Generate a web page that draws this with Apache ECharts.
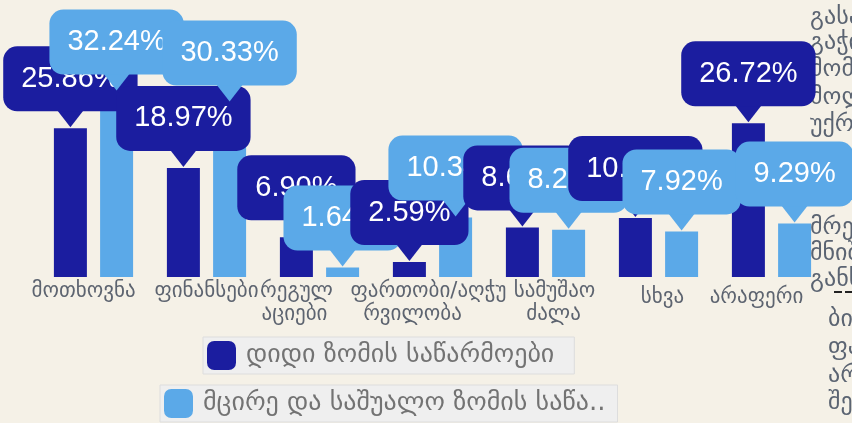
<!DOCTYPE html>
<html><head><meta charset="utf-8">
<script src="https://cdn.jsdelivr.net/npm/echarts@6/dist/echarts.min.js"></script>
<style>html,body{margin:0;padding:0;background:#f5f1e7;}#c{width:852px;height:423px;}</style>
</head><body><div id="c"></div>
<script>
const categories = ['მოთხოვნა','ფინანსები','რეგულაციები','ფართობი/აღჭურვილობა','სამუშაო ძალა','სხვა','არაფერი'];
const tickLabels = ['მოთხოვნა','ფინანსები','რეგულ\nაციები','ფართობი/აღჭუ\nრვილობა','სამუშაო\nძალა','სხვა','არაფერი'];
const seriesNames = ['დიდი ზომის საწარმოები','მცირე და საშუალო ზომის საწარმოები'];
const largeValues = [25.86, 18.97, 6.90, 2.59, 8.62, 10.24, 26.72];
const smeValues = [32.24, 30.33, 1.64, 10.34, 8.21, 7.92, 9.29];
const sideNote = ['გასაჩივრება','გაჭირვება','მომწოდებელი','მოლოდინი','უქრება','','','','მრეწველობა','მნიშვნელოვანი','განსხვავება','','ბიზნესი','ფასები','არის','შეზღუდვა'];

const colors = ['#1b1d9f','#5ba9e8'];
const barW = 33, gapRatio = 0.4;
const offset = (barW * 2 + barW * gapRatio) / 2 - barW / 2;
const geo = "'DejaVu Sans', sans-serif";

const bubbleData = [];
categories.forEach((c, i) => {
  bubbleData.push([i, largeValues[i], 0]);
  bubbleData.push([i, smeValues[i], 1]);
});

const noteGraphics = [];
const noteY = [20,45,72,100,127,0,0,0,230,256,282,0,322,350,378,405];
sideNote.forEach((t, i) => {
  if (!t) return;
  noteGraphics.push({type:'text', left: i >= 12 ? 828 : 810, top: noteY[i] - 14,
    style:{text:t, fill:'#5b6472', font:'24px ' + geo}});
});
noteGraphics.push({type:'rect', shape:{x:834,y:291,width:8,height:2}, style:{fill:'#222'}});
noteGraphics.push({type:'rect', shape:{x:845,y:291,width:7,height:2}, style:{fill:'#222'}});

// axis label layout tweaks: per line horizontal nudge (px) and extra top offset
const labelFont = {color:'#5d6470', fontSize: 21, fontFamily: geo, lineHeight: 23};
const nudge = [[-10],[0],[-23,-25],[-4,-20],[9,8],[4],[-15]];
const dropTop = [0,0,0,0,0,12,12];
const rich = {};
nudge.forEach((arr, i) => arr.forEach((d, j) => {
  rich['l' + i + '_' + j] = Object.assign({}, labelFont, {
    padding: [j === 0 ? dropTop[i] : 0, d < 0 ? -2 * d : 0, 0, d > 0 ? 2 * d : 0]
  });
}));

const chart = echarts.init(document.getElementById('c'));
chart.setOption({
  backgroundColor: '#f5f1e7',
  animation: false,
  grid: {left: 37, right: 24, top: 47, bottom: 146},
  xAxis: {
    type: 'category', data: categories,
    axisLine: {show:false}, axisTick: {show:false},
    axisLabel: Object.assign({interval: 0, margin: 3, rich: rich,
      formatter: (v, i) => tickLabels[i].split('\n').map((ln, j) => '{l' + i + '_' + j + '|' + ln + '}').join('\n')
    }, labelFont)
  },
  yAxis: {type:'value', min:0, max:40, show:false, splitLine:{show:false}},
  legend: [
    {data:[seriesNames[0]], left: 203, top: 337, orient:'horizontal',
     backgroundColor:'#efefef', borderColor:'#dddddd', borderWidth:1, padding:[4,20,4,4],
     itemWidth:29, itemHeight:29, icon:'roundRect',
     textStyle:{color:'#737373', fontSize:26, fontFamily: geo, padding:[0,0,0,5]}},
    {data:[seriesNames[1]], left: 160, top: 385, orient:'horizontal',
     backgroundColor:'#efefef', borderColor:'#dddddd', borderWidth:1, padding:[4,12,4,4],
     itemWidth:29, itemHeight:29, icon:'roundRect',
     formatter: n => n.slice(0, 27) + '..',
     textStyle:{color:'#737373', fontSize:26, fontFamily: geo, padding:[0,0,0,5]}}
  ],
  series: [
    {name: seriesNames[0], type:'bar', data: largeValues, barWidth: barW, barGap: '40%', itemStyle:{color: colors[0]}, z: 2},
    {name: seriesNames[1], type:'bar', data: smeValues, barWidth: barW, itemStyle:{color: colors[1]}, z: 2},
    {type:'custom', z: 5, clip: false, silent: true, data: bubbleData,
     encode: {x: 0, y: 1},
     renderItem: (params, api) => {
       const cat = api.value(0), val = api.value(1), s = api.value(2);
       const p = api.coord([cat, val]);
       const x = p[0] + (s === 0 ? -offset : offset);
       const tipY = p[1] - 1;
       const baseY = tipY - 16;
       const col = colors[s];
       return {type:'group', children:[
         {type:'polygon', shape:{points:[[x-14, baseY-2],[x+14, baseY-2],[x, tipY]]}, style:{fill: col}},
         {type:'text', x: x, y: baseY,
          style:{text: val.toFixed(2) + '%', fill:'#ffffff', font:"29px 'Liberation Sans', Arial, sans-serif",
            align:'center', verticalAlign:'bottom', backgroundColor: col, padding:[18,18,18,18], borderRadius:14}}
       ]};
     }}
  ],
  graphic: noteGraphics
});
</script></body></html>
